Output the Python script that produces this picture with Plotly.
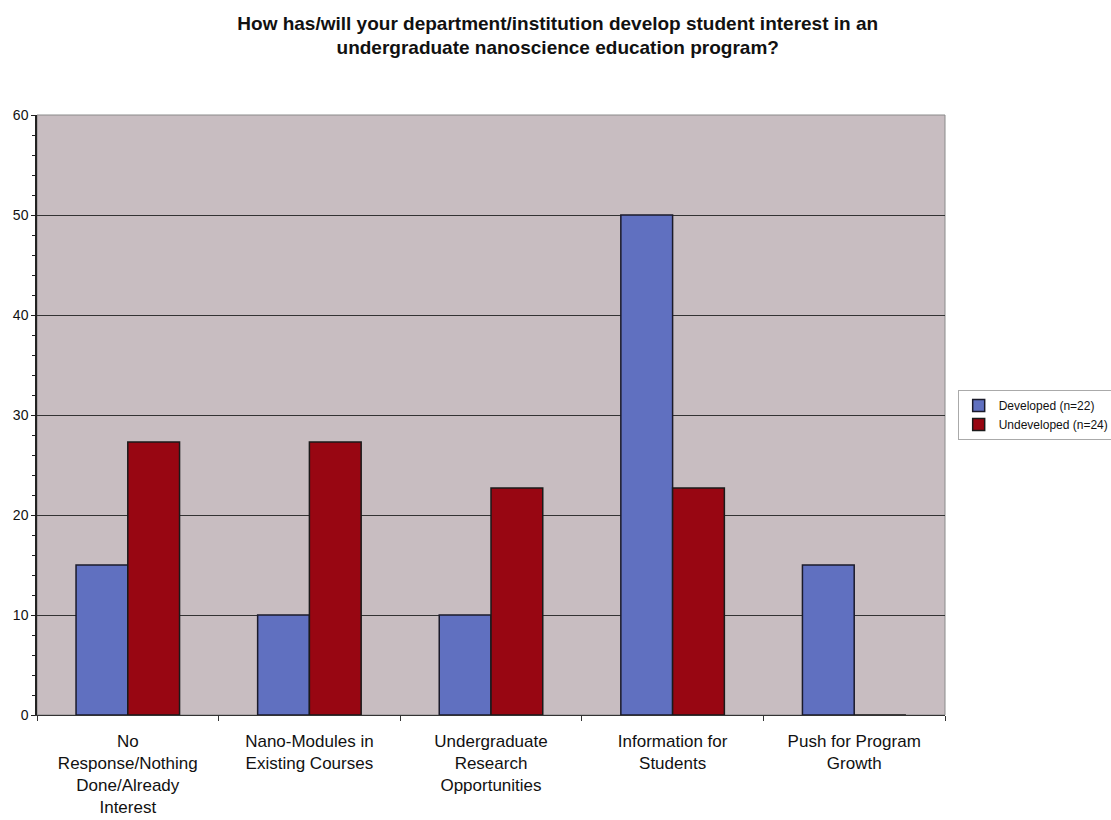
import plotly.graph_objects as go

categories = [
    "No<br>Response/Nothing<br>Done/Already<br>Interest",
    "Nano-Modules in<br>Existing Courses",
    "Undergraduate<br>Research<br>Opportunities",
    "Information for<br>Students",
    "Push for Program<br>Growth",
]
developed = [15, 10, 10, 50, 15]
undeveloped = [27.3, 27.3, 22.7, 22.7, 0]
y_ticks = [0, 10, 20, 30, 40, 50, 60]

fig = go.Figure()
fig.add_trace(go.Bar(
    x=categories, y=developed, name="Developed (n=22)",
    marker=dict(color="#6070c0", line=dict(color="#1a1a2a", width=1.5)),
))
fig.add_trace(go.Bar(
    x=categories, y=undeveloped, name="Undeveloped (n=24)",
    marker=dict(color="#980612", line=dict(color="#1a1a1a", width=1.5)),
))

fig.update_layout(
    width=1111, height=820,
    margin=dict(l=37, r=166, t=115, b=105, autoexpand=False),
    paper_bgcolor="white",
    plot_bgcolor="#c8bdc1",
    barmode="group",
    bargap=0.43,
    bargroupgap=0,
    font=dict(family="Liberation Sans, Arial, sans-serif", color="#111"),
    title=dict(
        text="<b>How has/will your department/institution develop student interest in an<br>undergraduate nanoscience education program?</b>",
        x=0.502, xanchor="center", yref="container", y=0.964, yanchor="top",
        font=dict(size=19, color="#111"),
    ),
    legend=dict(
        xref="container", yref="container",
        x=0.862, xanchor="left", y=0.494, yanchor="middle",
        bgcolor="white", bordercolor="#aaa", borderwidth=1,
        font=dict(size=12),
        itemwidth=30, tracegroupgap=0,
    ),
    showlegend=True,
)
fig.update_xaxes(
    showline=True, linecolor="#333", linewidth=1.2,
    ticks="outside", ticklen=5, tickcolor="#333", tickson="boundaries",
    tickfont=dict(size=17, color="#111"),
    ticklabelstandoff=10,
    showgrid=False,
)
fig.update_yaxes(
    range=[0, 60], tickvals=y_ticks,
    showline=True, linecolor="#222", linewidth=1.5,
    ticks="outside", ticklen=4, tickcolor="#222",
    tickfont=dict(size=14, color="#111"),
    showgrid=True, gridcolor="#333", gridwidth=1,
    minor=dict(dtick=2, ticks="outside", ticklen=3, tickcolor="#222", showgrid=False),
    zeroline=False,
)
fig.add_shape(type="rect", xref="paper", yref="paper", x0=0, x1=1, y0=0, y1=1,
              line=dict(color="#8a8a8a", width=1), layer="below")
fig.write_html("out.html")
